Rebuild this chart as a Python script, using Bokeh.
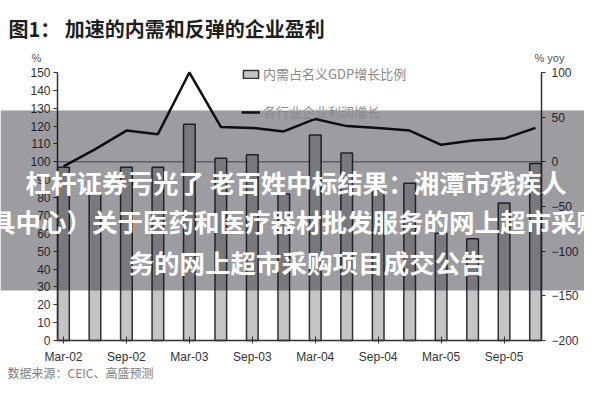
from bokeh.plotting import figure
from bokeh.models import (Range1d, LinearAxis, FixedTicker, Legend, LegendItem,
                          BoxAnnotation, Label, ColumnDataSource)
from bokeh.embed import file_html
from bokeh.resources import INLINE

# ---------------- data ----------------
quarters = ["Mar-02", "Jun-02", "Sep-02", "Dec-02", "Mar-03", "Jun-03", "Sep-03", "Dec-03",
            "Mar-04", "Jun-04", "Sep-04", "Dec-04", "Mar-05", "Jun-05", "Sep-05", "Dec-05"]
domestic_demand_share = [97, 82, 97, 97, 121, 102, 104, 82, 115, 105, 84, 88, 60, 57, 77, 99]
profit_growth = [-5, 14, 35, 31, 100, 39, 38, 34, 48, 40, 38, 35, 19, 24, 26, 38]
left_ticks = list(range(0, 151, 10))
right_ticks = [-200, -150, -100, -50, 0, 50, 100]
reference_level = 100
legend_labels = ["内需占名义GDP增长比例", "各行业企业利润增长"]
title_text = "图1： 加速的内需和反弹的企业盈利"
left_unit = "%"
right_unit = "% yoy"
source_text = "数据来源：CEIC、高盛预测"
overlay_lines = ["杠杆证券亏光了 老百姓中标结果：湘潭市残疾人",
                 "具中心）关于医药和医疗器材批发服务的网上超市采购",
                 "务的网上超市采购项目成交公告"]

positions = list(range(len(quarters)))
src = ColumnDataSource(dict(x=positions, share=domestic_demand_share, growth=profit_growth))

CJK = "Noto Sans CJK SC"
LAT = "Liberation Sans"
W, H = 584, 384

# layout: frame covers the whole canvas, axes are pinned with fixed_location
X_LO, X_HI = -0.19, 15.19          # axis positions (category units)
p = figure(width=W, height=H, x_range=Range1d(-2.0013, 16.556),
           y_range=Range1d(-24.627, 190.299),
           output_backend="svg", toolbar_location=None,
           min_border_left=0, min_border_right=0, min_border_top=0, min_border_bottom=0)
p.extra_y_ranges = {"yoy": Range1d(-249.254, 180.597)}
p.xgrid.visible = False
p.ygrid.visible = False
p.outline_line_color = None
p.background_fill_color = "white"
p.border_fill_color = "white"

# reference line at 100 % (0 % yoy), between the two axes
p.segment(x0=[X_LO], x1=[X_HI], y0=[reference_level], y1=[reference_level],
          line_color="#9a9a9a", line_width=1.5)

bars = p.vbar(x="x", top="share", bottom=0, width=0.37, source=src,
              fill_color="#c4c4c4", line_color="#333333", line_width=1.5)
line = p.line(x="x", y="growth", source=src, y_range_name="yoy",
              line_color="#111111", line_width=2.5)

# axes
def style_axis(ax, tin, tout, standoff):
    ax.minor_tick_line_color = None
    ax.major_tick_in = tin
    ax.major_tick_out = tout
    ax.major_label_standoff = standoff
    ax.axis_line_color = "#333333"
    ax.axis_line_width = 1.5
    ax.major_tick_line_color = "#333333"
    ax.major_label_text_font = LAT
    ax.major_label_text_font_size = "12px"
    ax.major_label_text_color = "#333333"

xa = p.xaxis[0]
xa.ticker = FixedTicker(ticks=positions[::2])
xa.major_label_overrides = {i: quarters[i] for i in positions[::2]}
xa.fixed_location = 0
xa.bounds = (X_LO, X_HI)
style_axis(xa, 4, 3, 7)

ya = p.yaxis[0]
ya.ticker = FixedTicker(ticks=left_ticks)
ya.fixed_location = X_LO
ya.bounds = (left_ticks[0], left_ticks[-1])
style_axis(ya, 0, 4, 3)

ra = LinearAxis(y_range_name="yoy", ticker=FixedTicker(ticks=right_ticks))
ra.fixed_location = X_HI
ra.bounds = (right_ticks[0], right_ticks[-1])
style_axis(ra, 0, 4, 6)
p.add_layout(ra, "right")

# legend
legend = Legend(items=[LegendItem(label=legend_labels[0], renderers=[bars]),
                       LegendItem(label=legend_labels[1], renderers=[line])],
                location=(241, 263), orientation="vertical",
                glyph_width=19, glyph_height=10, label_height=18, spacing=19,
                label_standoff=3, padding=0, margin=0,
                border_line_color=None, background_fill_alpha=0,
                label_text_font=CJK, label_text_font_size="13px",
                label_text_color="#8a8a8a")
p.add_layout(legend)

# texts (screen units: x from left edge, y up from bottom edge)
def add_label(txt, x, y_top, font, size, color, bold=False, align="left"):
    p.add_layout(Label(x=x, y=H - y_top, x_units="screen", y_units="screen", text=txt,
                       text_font=font, text_font_size=size,
                       text_font_style="bold" if bold else "normal",
                       text_color=color, text_baseline="middle", text_align=align,
                       level="overlay"))

add_label(title_text, 8, 28, CJK, "20px", "#1e1e1e", bold=True)
add_label(left_unit, 31, 57, LAT, "11px", "#555555")
add_label(right_unit, 534, 57, LAT, "11px", "#555555")
add_label(source_text, 7, 372, CJK, "12px", "#808080")

# dark translucent band with caption text on top
p.add_layout(BoxAnnotation(left=0, right=W, top=H - 110, bottom=H - 290,
                           left_units="screen", right_units="screen",
                           top_units="screen", bottom_units="screen",
                           fill_color="#0a0a14", fill_alpha=0.4, line_color=None,
                           level="overlay"))
add_label(overlay_lines[0], 25, 181, CJK, "25.5px", "white", bold=True)
add_label(overlay_lines[1], -10.5, 220, CJK, "25.5px", "white", bold=True)
add_label(overlay_lines[2], 128, 261, CJK, "25.5px", "white", bold=True)

open("out.html", "w").write(file_html(p, INLINE))
